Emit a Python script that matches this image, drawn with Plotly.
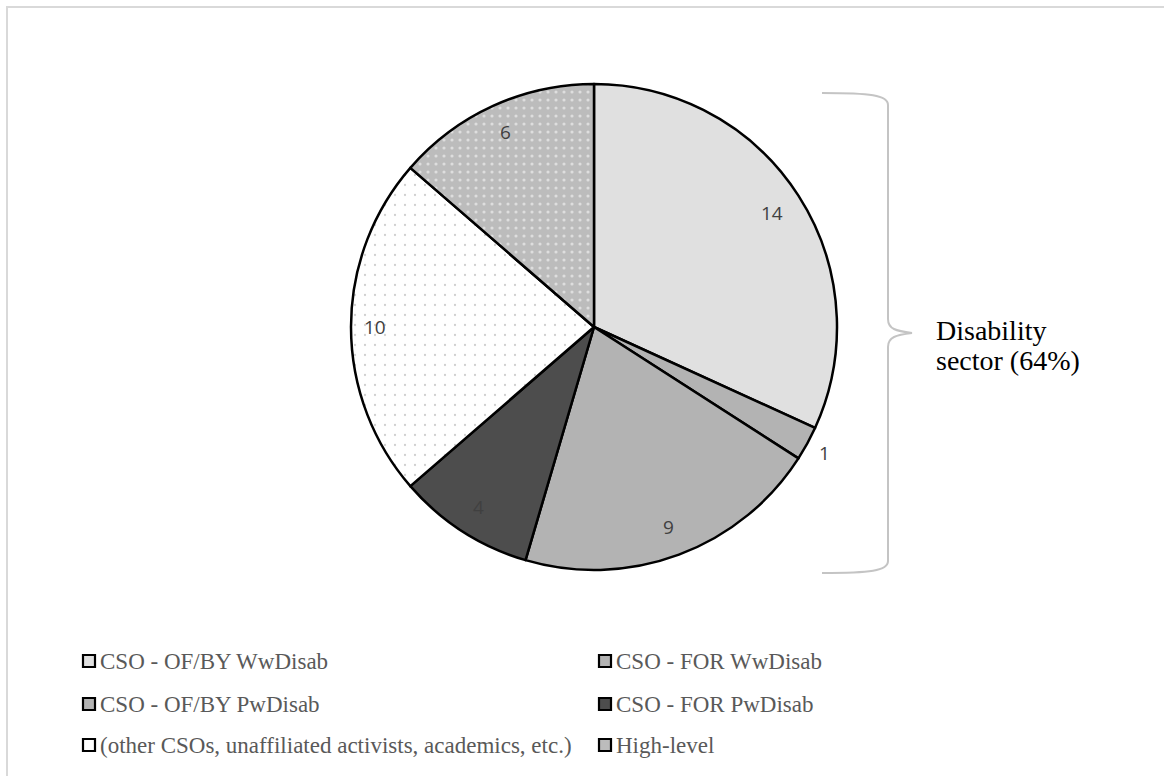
import math
import plotly.graph_objects as go

# Participant groups and counts
categories = [
    "CSO - OF/BY WwDisab",
    "CSO - FOR WwDisab",
    "CSO - OF/BY PwDisab",
    "CSO - FOR PwDisab",
    "(other CSOs, unaffiliated activists, academics, etc.)",
    "High-level",
]
counts = [14, 1, 9, 4, 10, 6]
disability_groups = categories[:4]

W, H = 1164, 776


def px(x):
    return x / W


def py(y):
    return 1 - y / H


fills = ["#e0e0e0", "#b3b3b3", "#b3b3b3", "#4d4d4d", "#ffffff", "#bcbcbc"]
pat_shapes = ["", "", "", "", ".", "."]
pat_fg = ["#000000", "#000000", "#000000", "#000000", "#a0a0a0", "#ffffff"]
pat_size = [8, 8, 8, 8, 10, 8]
pat_sol = [0.2, 0.2, 0.2, 0.2, 0.04, 0.12]

cx, cy, r = 594, 327, 243

fig = go.Figure(
    go.Pie(
        labels=categories,
        values=counts,
        sort=False,
        direction="clockwise",
        rotation=0,
        textinfo="none",
        hoverinfo="label+value",
        showlegend=False,
        marker=dict(
            colors=fills,
            line=dict(color="#000000", width=2.5),
            pattern=dict(shape=pat_shapes, fgcolor=pat_fg, size=pat_size,
                         solidity=pat_sol, fillmode="overlay"),
        ),
        domain=dict(x=[px(cx - r), px(cx + r)], y=[py(cy + r), py(cy - r)]),
    )
)

annotations = []
shapes = []

# Value labels placed along each slice's mid-angle (the tiny slice sits outside)
label_radius = [0.87, 1.08, 0.88, 0.88, 0.9, 0.88]
total = sum(counts)
cum = 0
for v, rf in zip(counts, label_radius):
    mid = (cum + v / 2) / total * 2 * math.pi
    cum += v
    lx = cx + rf * r * math.sin(mid)
    ly = cy - rf * r * math.cos(mid)
    annotations.append(dict(
        x=px(lx), y=py(ly), xref="paper", yref="paper", text=str(v),
        showarrow=False, xanchor="center", yanchor="middle",
        font=dict(family="Open Sans", size=19, color="#404040"),
    ))

# Brace grouping the disability-sector slices
bx, tip = 888, 912
top, mid_y, bot, tail = 93, 333, 573, 822
brace = (
    f"M {px(tail)},{py(top)} C {px(870)},{py(top)} {px(bx)},{py(top+2)} {px(bx)},{py(top+12)} "
    f"L {px(bx)},{py(mid_y-14)} C {px(bx)},{py(mid_y-4)} {px(bx+8)},{py(mid_y-2)} {px(tip)},{py(mid_y)} "
    f"C {px(bx+8)},{py(mid_y+2)} {px(bx)},{py(mid_y+4)} {px(bx)},{py(mid_y+14)} "
    f"L {px(bx)},{py(bot-12)} C {px(bx)},{py(bot-2)} {px(870)},{py(bot)} {px(tail)},{py(bot)}"
)
shapes.append(dict(type="path", path=brace, xref="paper", yref="paper",
                   line=dict(color="#c4c4c4", width=2)))

# Caption beside the brace, one annotation per line
share = sum(c for g, c in zip(categories, counts) if g in disability_groups) / total
caption_lines = ["Disability", f"sector ({share:.0%})"]
for k, line in enumerate(caption_lines):
    annotations.append(dict(
        x=px(934), y=py(330 + 30 * k), xref="paper", yref="paper",
        text=line, showarrow=False, xanchor="left", yanchor="middle",
        font=dict(family="Liberation Serif", size=28, color="#000000"),
    ))

# Legend: two columns, three rows
leg_x = [83, 599]
leg_y = [661, 704, 745]
box = 12
for i, (name, col) in enumerate(zip(categories, fills)):
    lx = leg_x[i % 2]
    ly = leg_y[i // 2]
    shapes.append(dict(type="rect", xref="paper", yref="paper",
                       x0=px(lx), x1=px(lx + box), y0=py(ly + box / 2), y1=py(ly - box / 2),
                       fillcolor=col, line=dict(color="#000000", width=2.2)))
    annotations.append(dict(
        x=px(lx + box + 3), y=py(ly), xref="paper", yref="paper", text=name,
        showarrow=False, xanchor="left", yanchor="middle",
        font=dict(family="Liberation Serif", size=23, color="#595959"),
    ))

# Chart frame
shapes.append(dict(type="rect", xref="paper", yref="paper",
                   x0=px(7), x1=px(W + 10), y0=py(H + 10), y1=py(7),
                   line=dict(color="#d9d9d9", width=2), fillcolor="rgba(0,0,0,0)"))

fig.update_layout(
    width=W, height=H,
    margin=dict(l=0, r=0, t=0, b=0),
    paper_bgcolor="#ffffff",
    plot_bgcolor="#ffffff",
    annotations=annotations,
    shapes=shapes,
)

fig.write_html("out.html")
